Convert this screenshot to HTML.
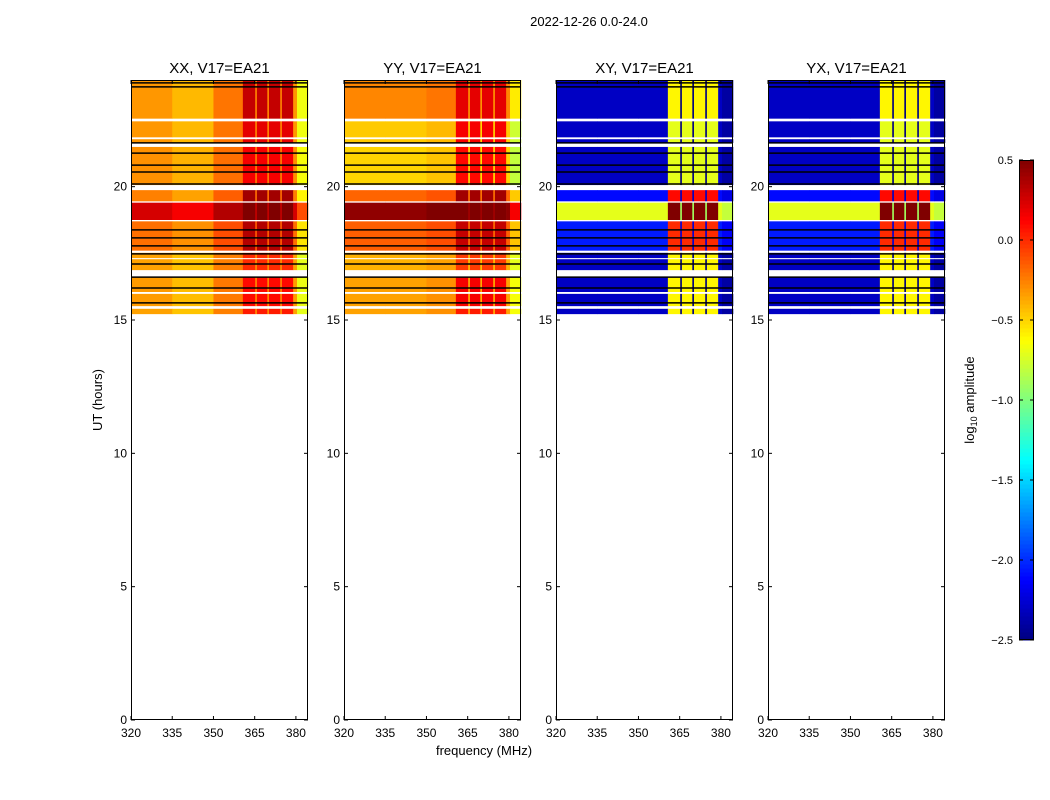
<!DOCTYPE html>
<html><head><meta charset="utf-8"><style>
body{margin:0;background:#fff;}
svg{display:block;font-family:"Liberation Sans","DejaVu Sans",sans-serif;}
</style></head><body>
<svg id="fig" width="1050" height="800" xmlns="http://www.w3.org/2000/svg">
<text x="589" y="26" font-size="13" text-anchor="middle">2022-12-26 0.0-24.0</text>
<text x="102" y="400" font-size="13" text-anchor="middle" transform="rotate(-90 102 400)">UT (hours)</text>
<text x="484" y="755" font-size="13" text-anchor="middle">frequency (MHz)</text>
<text x="974" y="400" font-size="13" text-anchor="middle" transform="rotate(-90 974 400)">log<tspan font-size="9" dy="3">10</tspan><tspan dy="-3"> amplitude</tspan></text>
</svg>
<script>
const panelTitles=["XX, V17=EA21","YY, V17=EA21","XY, V17=EA21","YX, V17=EA21"];
const xTicks=[320,335,350,365,380];
const yTicks=[0,5,10,15,20];
const cbTicks=[0.5,0.0,-0.5,-1.0,-1.5,-2.0,-2.5];
// time bands [start,end] in hours
const bandStart=[22.55,21.85,21.64,20.06,19.45,18.75,17.6,17.32,16.87,16.05,15.52,15.22];
const bandEnd  =[24.0 ,22.45,21.78,21.49,19.87,19.4 ,18.7,17.52,17.28,16.61,15.98,15.42];
// frequency segments (MHz edges) and whether RFI column
const freqEdges=[320,335,350,360.7,365.2,365.8,369.6,370.2,374.3,374.9,379,380.4,384.4];
const freqRfi=[0,0,0,1,0,1,0,1,0,1,0,0];
// per-panel band levels (background / rfi columns), log10 amplitude
const bgXX=[-0.32,-0.32,-0.32,-0.3,-0.25,0.25,-0.2,-0.35,-0.35,-0.33,-0.33,-0.35];
const rfXX=[0.3,0.2,0.2,0.15,0.4,0.5,0.35,0.0,0.0,0.1,0.1,0.05];
const bgYY=[-0.22,-0.42,-0.42,-0.45,-0.12,0.5,-0.1,-0.35,-0.35,-0.3,-0.3,-0.3];
const rfYY=[0.2,0.15,0.15,0.1,0.4,0.5,0.3,-0.05,-0.05,0.15,0.15,0.05];
const bgXY=[-2.3,-2.3,-2.3,-2.3,-2.1,-0.7,-2.05,-2.3,-2.3,-2.3,-2.3,-2.3];
const rfXY=[-0.6,-0.7,-0.7,-0.7,0.1,0.5,0.0,-0.6,-0.6,-0.6,-0.6,-0.6];
const bgYX=[-2.3,-2.3,-2.3,-2.3,-2.1,-0.7,-2.05,-2.3,-2.3,-2.3,-2.3,-2.3];
const rfYX=[-0.6,-0.7,-0.7,-0.7,0.1,0.5,0.0,-0.6,-0.6,-0.6,-0.6,-0.6];
// per-panel frequency adjustment per segment
const adjXX=[0,-0.1,0.1,0,0.05,0,0.05,0,0.05,0,0.0,-0.35];
const adjYY=[-0.05,-0.05,0,0,-0.1,0,-0.1,0,-0.1,0,-0.05,-0.35];
const adjXY=[0,0,0,0,-0.2,0,-0.2,0,-0.2,0,0,-0.1];
const adjYX=[0,0,0,0,-0.2,0,-0.2,0,-0.2,0,0,-0.1];
// black flag lines (hours)
const blackLines=[23.89,23.74,21.64,21.26,20.81,20.55,20.1,18.38,18.08,17.78,17.48,17.1,16.61,16.2,15.64];
const bgs=[bgXX,bgYY,bgXY,bgYX], rfs=[rfXX,rfYY,rfXY,rfYX], adjs=[adjXX,adjYY,adjXY,adjYX];

const NS="http://www.w3.org/2000/svg";
const svg=document.getElementById('fig');
function mk(t,a){const e=document.createElementNS(NS,t);for(const k in a)e.setAttribute(k,a[k]);return e;}
function jet(v){let t=(v+2.5)/3;t=Math.max(0,Math.min(1,t));
 const f=x=>Math.max(0,Math.min(1,x));
 const r=f(1.5-Math.abs(4*t-3)),g=f(1.5-Math.abs(4*t-2)),b=f(1.5-Math.abs(4*t-1));
 return `rgb(${Math.round(r*255)},${Math.round(g*255)},${Math.round(b*255)})`;}
const lefts=[131,344,556,768], W=177, axTop=80, axBot=720;
const yS=h=>axBot-(h/24)*(axBot-axTop);
for(let p=0;p<4;p++){
 const L=lefts[p], xS=f=>L+(f-320)*(W/64.4);
 const g=mk('g',{});
 
 
 svg.appendChild(g);
 for(let b=0;b<bandStart.length;b++){
  for(let s=0;s<freqRfi.length;s++){
   const v=(freqRfi[s]?rfs[p][b]:bgs[p][b])+adjs[p][s];
   const x0=xS(freqEdges[s]),x1=xS(freqEdges[s+1]);
   const r=mk('rect',{x:x0,y:yS(bandEnd[b]),width:x1-x0+0.3,height:yS(bandStart[b])-yS(bandEnd[b]),fill:jet(v)});
   
   
   g.appendChild(r);
  }
 }
 for(const h of blackLines){
  const l=mk('line',{x1:L,x2:L+W,y1:yS(h),y2:yS(h),stroke:'#000','stroke-width':1.5});
  
  
  g.appendChild(l);
 }
 const fr=mk('rect',{x:L+0.5,y:axTop+0.5,width:W-1,height:axBot-axTop-1,fill:'none',stroke:'#000','stroke-width':1});
 
 
 g.appendChild(fr);
 for(const t of xTicks){const x=xS(t);
  g.appendChild(mk('line',{x1:x,x2:x,y1:axBot,y2:axBot-4,stroke:'#000'}));
  g.appendChild(mk('line',{x1:x,x2:x,y1:axTop,y2:axTop+4,stroke:'#000'}));
  const tx=mk('text',{x:x,y:axBot+17,'font-size':12,'text-anchor':'middle'});tx.textContent=t;
  
  
  g.appendChild(tx);}
 for(const t of yTicks){const y=yS(t);
  g.appendChild(mk('line',{x1:L,x2:L+4,y1:y,y2:y,stroke:'#000'}));
  g.appendChild(mk('line',{x1:L+W,x2:L+W-4,y1:y,y2:y,stroke:'#000'}));
  const tx=mk('text',{x:L-4,y:y+4,'font-size':12,'text-anchor':'end'});tx.textContent=t;
  
  
  g.appendChild(tx);}
 const tt=mk('text',{x:L+W/2,y:73,'font-size':15,'text-anchor':'middle'});tt.textContent=panelTitles[p];
 
 
 g.appendChild(tt);
}
// colorbar
const cb=mk('g',{});


svg.appendChild(cb);
const cx=1019,cw=15,ct=160,cbB=640;
for(let i=0;i<120;i++){const v=-2.5+3*(i+0.5)/120;const y=cbB-(i+1)*(cbB-ct)/120;
 cb.appendChild(mk('rect',{x:cx,y:y,width:cw,height:(cbB-ct)/120+0.5,fill:jet(v)}));}
cb.appendChild(mk('rect',{x:cx+0.5,y:ct+0.5,width:cw-1,height:cbB-ct-1,fill:'none',stroke:'#000'}));
for(const t of cbTicks){const y=cbB-(t+2.5)/3*(cbB-ct);
 cb.appendChild(mk('line',{x1:cx+cw-4,x2:cx+cw,y1:y,y2:y,stroke:'#000'}));
 cb.appendChild(mk('line',{x1:cx,x2:cx+4,y1:y,y2:y,stroke:'#000'}));
 const tx=mk('text',{x:cx-6,y:y+4,'font-size':11,'text-anchor':'end'});tx.textContent=(t<0?'\u2212':'')+Math.abs(t).toFixed(1);
 
 
 cb.appendChild(tx);}
</script>
</body></html>
